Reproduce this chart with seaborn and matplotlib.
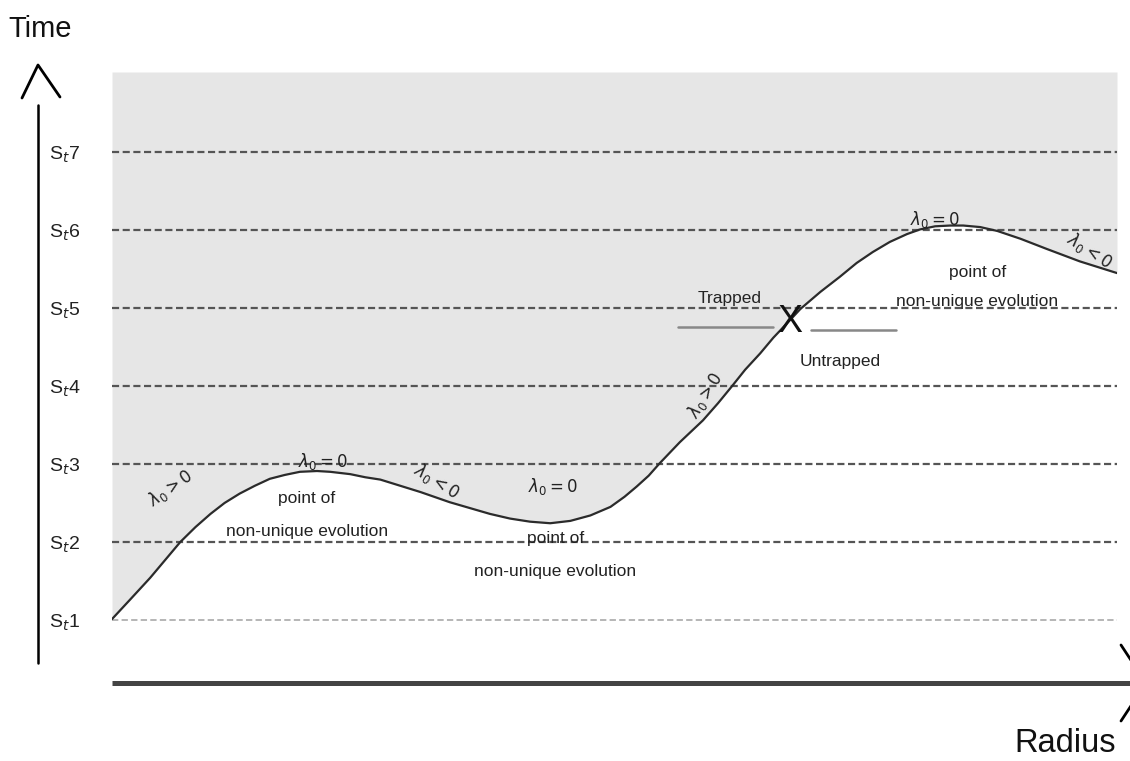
import numpy as np
import pandas as pd
import seaborn as sns
import matplotlib.pyplot as plt
from matplotlib.lines import Line2D

# curve: radius (0..10) vs time level (S_t units)
radius = [0.0, 0.18, 0.38, 0.53, 0.68, 0.83, 0.98, 1.12, 1.27, 1.42, 1.57, 1.72,
          1.87, 2.04, 2.17, 2.37, 2.52, 2.67, 2.87, 3.07, 3.36, 3.76, 3.96, 4.16,
          4.36, 4.56, 4.76, 4.96, 5.10, 5.22, 5.34, 5.45, 5.65, 5.88, 6.03, 6.17, 6.30,
          6.45, 6.58, 6.72, 6.85, 7.05, 7.24, 7.41, 7.57, 7.74, 7.91, 8.04, 8.19,
          8.34, 8.47, 8.64, 8.81, 9.04, 9.30, 9.63, 10.0]
time = [1.01, 1.26, 1.54, 1.77, 2.00, 2.19, 2.36, 2.50, 2.62, 2.72, 2.81, 2.86,
        2.90, 2.91, 2.90, 2.87, 2.83, 2.80, 2.72, 2.64, 2.51, 2.36, 2.30, 2.26,
        2.24, 2.27, 2.34, 2.45, 2.58, 2.71, 2.85, 3.01, 3.28, 3.56, 3.78, 4.00, 4.21,
        4.42, 4.62, 4.81, 4.99, 5.21, 5.40, 5.58, 5.72, 5.85, 5.95, 6.01, 6.05,
        6.06, 6.06, 6.04, 5.99, 5.89, 5.76, 5.60, 5.45]

levels = [1, 2, 3, 4, 5, 6, 7]
level_labels = [r'S$_t$' + str(l) for l in levels]

W, H = 1130, 761

def fx(p):
    return p / W

def fy(p):
    return 1 - p / H

sns.set_theme(style='white')
plt.rcParams['font.family'] = ['Liberation Sans', 'DejaVu Sans']
plt.rcParams['mathtext.fontset'] = 'dejavusans'

fig = plt.figure(figsize=(W / 100, H / 100), dpi=100)
ax = fig.add_axes([fx(112), fy(683), fx(1117) - fx(112), fy(72) - fy(683)])

ymin, ymax = 0.19, 8.03
ax.set_xlim(0, 10)
ax.set_ylim(ymin, ymax)

# shaded region above the curve
ax.fill_between(radius, time, ymax, color='#e6e6e6', lw=0, zorder=0)

for l in levels:
    if l == 1:
        ax.axhline(l, color='#b0b0b0', lw=1.3, ls=(0, (3.5, 1.8)), zorder=1)
    else:
        ax.axhline(l, color='#555555', lw=1.6, ls=(0, (3.2, 1.6)), zorder=1)

df = pd.DataFrame({'radius': radius, 'time': time})
sns.lineplot(data=df, x='radius', y='time', sort=False, color='#2b2b2b', lw=1.6, ax=ax, zorder=3)

ax.set_yticks(levels)
ax.set_yticklabels(level_labels, fontsize=14)
ax.tick_params(axis='y', length=0, pad=23, colors='#222222')
ax.set_xticks([])
ax.set_xlabel('')
ax.set_ylabel('')
for s in ax.spines.values():
    s.set_visible(False)

# annotations on the curve
lam_kw = dict(fontsize=12, color='#222222', ha='center', va='center', zorder=4)
ax.text(0.58, 2.69, r'$\lambda_0 > 0$', rotation=35, **lam_kw)
ax.text(2.10, 3.03, r'$\lambda_0 = 0$', **lam_kw)
ax.text(3.23, 2.77, r'$\lambda_0 < 0$', rotation=-32, **lam_kw)
ax.text(4.39, 2.71, r'$\lambda_0 = 0$', **lam_kw)
ax.text(5.90, 3.89, r'$\lambda_0 > 0$', rotation=58, **lam_kw)
ax.text(8.19, 6.14, r'$\lambda_0 = 0$', **lam_kw)
ax.text(9.73, 5.74, r'$\lambda_0 < 0$', rotation=-33, **lam_kw)

txt_kw = dict(fontsize=12.5, color='#222222', ha='center', va='center', zorder=4)
for xr, y1, y2 in [(1.94, 2.56, 2.13), (4.41, 2.05, 1.62), (8.61, 5.46, 5.08)]:
    ax.text(xr, y1, 'point of', **txt_kw)
    ax.text(xr, y2, 'non-unique evolution', **txt_kw)

ax.text(6.15, 5.13, 'Trapped', **txt_kw)
ax.text(7.25, 4.31, 'Untrapped', **txt_kw)
ax.text(6.74, 4.82, 'X', fontsize=27, color='#111111', ha='center', va='center', zorder=5)
ax.plot([5.63, 6.58], [4.756, 4.756], color='#888888', lw=1.8, zorder=4)
ax.plot([6.96, 7.80], [4.718, 4.718], color='#888888', lw=1.8, zorder=4)

# hand-drawn axes arrows
fig.add_artist(Line2D([fx(38), fx(38)], [fy(105), fy(663)], color='black', lw=1.8))
fig.add_artist(Line2D([fx(22), fx(38), fx(60)], [fy(98), fy(65), fy(97)], color='black', lw=2))
fig.add_artist(Line2D([fx(112), fx(1130)], [fy(683), fy(683)], color='#444444', lw=3.6,
                      solid_capstyle='butt'))
fig.add_artist(Line2D([fx(1121), fx(1146), fx(1121)], [fy(645), fy(683), fy(721)], color='black', lw=2))

fig.text(fx(40), fy(29), 'Time', fontsize=21, ha='center', va='center', color='#111111')
fig.text(fx(1065), fy(743), 'Radius', fontsize=23.5, ha='center', va='center', color='#111111')

fig.savefig('out.png', dpi=100)
